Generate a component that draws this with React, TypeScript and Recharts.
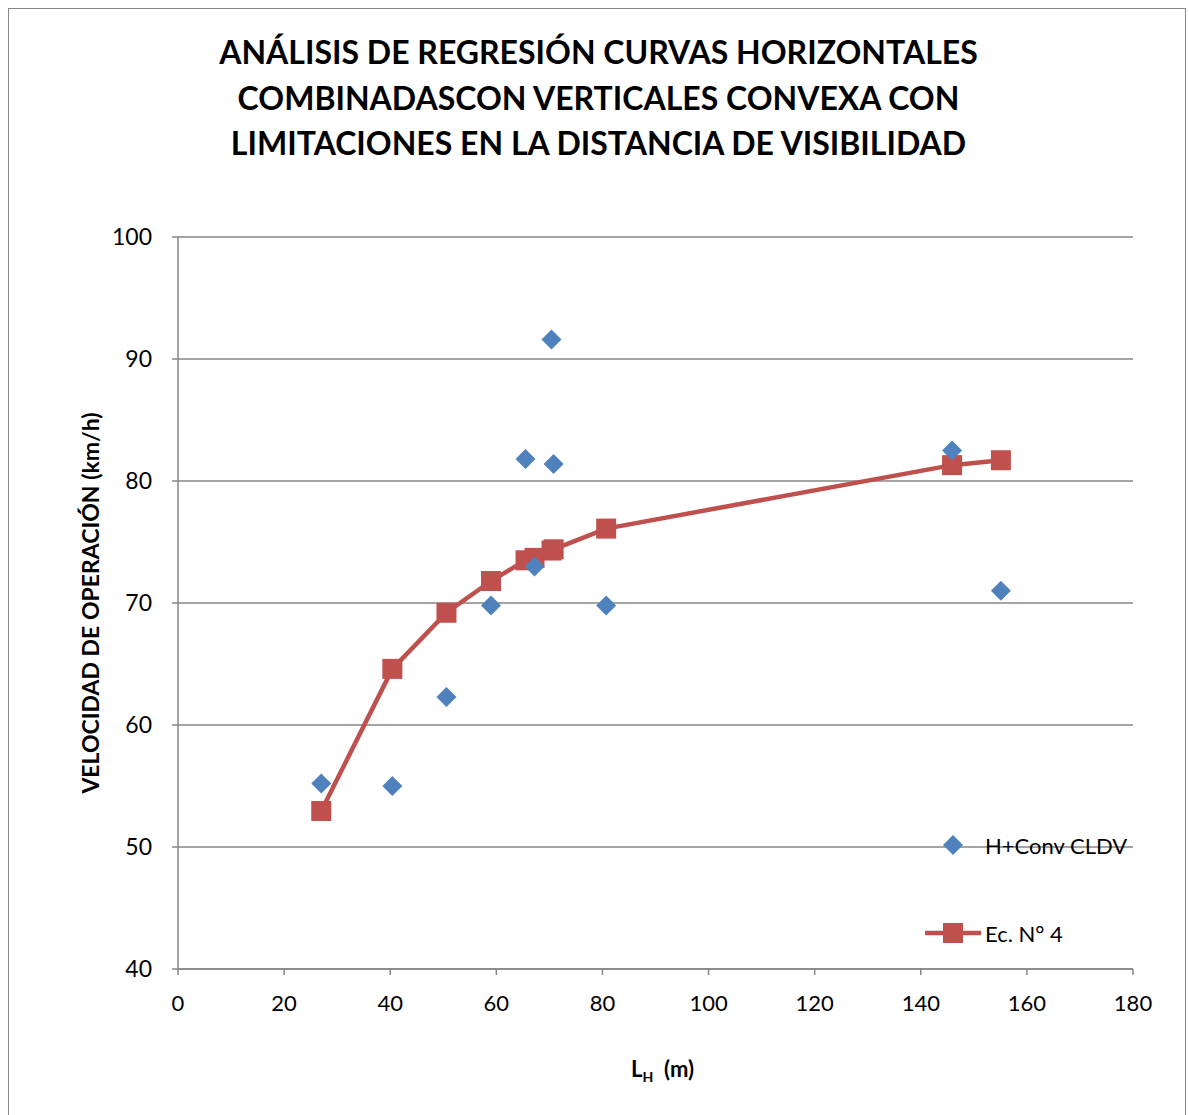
import React from "react";
import { ScatterChart, Scatter, XAxis, YAxis, CartesianGrid } from "recharts";

// L_H (m) for each curve
const lengths = [27, 40.4, 50.6, 59, 65.5, 67.2, 70.4, 70.8, 80.7, 145.9, 155.1];
// observed operating speed (km/h)
const observed = [55.2, 55.0, 62.3, 69.8, 81.8, 73.0, 91.6, 81.4, 69.8, 82.5, 71.0];
// model Ec. N° 4
const model = [52.95, 64.6, 69.2, 71.8, 73.5, 73.7, 74.3, 74.4, 76.1, 81.3, 81.7];

const xTicks = [0, 20, 40, 60, 80, 100, 120, 140, 160, 180];
const yTicks = [40, 50, 60, 70, 80, 90, 100];

const titleLines = [
  "ANÁLISIS DE REGRESIÓN CURVAS HORIZONTALES",
  "COMBINADASCON VERTICALES CONVEXA CON",
  "LIMITACIONES EN LA DISTANCIA DE VISIBILIDAD",
];

const BLUE = "#4F81BD";
const RED = "#C0504D";
const GRID = "#868686";
const FONT = "Lato, 'Open Sans', sans-serif";

const observedData = lengths.map((x, i) => ({ x, y: observed[i] }));
const modelData = lengths.map((x, i) => ({ x, y: model[i] }));

const Diamond = (props: any) => {
  const { cx, cy } = props;
  if (cx == null || cy == null) return null;
  const r = 10;
  return <polygon points={`${cx},${cy - r} ${cx + r},${cy} ${cx},${cy + r} ${cx - r},${cy}`} fill={BLUE} />;
};

const Square = (props: any) => {
  const { cx, cy } = props;
  if (cx == null || cy == null) return null;
  return <rect x={cx - 10} y={cy - 10} width={20} height={20} fill={RED} />;
};

export default function App() {
  return (
    <div style={{ position: "absolute", left: 0, top: 0, width: 1189, height: 1115, background: "#fff", fontFamily: FONT, overflow: "hidden" }}>
      <div style={{ position: "absolute", left: 8, top: 8, width: 1176, height: 1130, border: "1px solid #878787" }} />
      <div style={{ position: "absolute", left: 0, top: 29, width: 1197, textAlign: "center", fontWeight: 700, fontSize: 32, lineHeight: "45.5px", color: "#000" }}>
        {titleLines.map((t) => (
          <div key={t}>{t}</div>
        ))}
      </div>
      <div style={{ position: "absolute", left: 0, top: 0 }}>
        <ScatterChart width={1189} height={1115} margin={{ top: 237, right: 56, left: 0, bottom: 0 }}>
          <CartesianGrid horizontal vertical={false} stroke={GRID} strokeWidth={1.5} />
          <XAxis
            type="number"
            dataKey="x"
            domain={[0, 180]}
            ticks={xTicks}
            interval={0}
            height={146}
            stroke={GRID}
            strokeWidth={1.5}
            tickSize={6}
            tick={{ fontSize: 22, fill: "#000", fontFamily: FONT }}
            tickMargin={20}
          />
          <YAxis
            type="number"
            dataKey="y"
            domain={[40, 100]}
            ticks={yTicks}
            interval={0}
            width={178}
            stroke={GRID}
            strokeWidth={1.5}
            tickSize={6}
            tick={{ fontSize: 23, fill: "#000", fontFamily: FONT }}
            tickMargin={20}
          />
          <Scatter
            data={modelData}
            shape={<Square />}
            line={{ stroke: RED, strokeWidth: 4.5 }}
            lineJointType="linear"
            isAnimationActive={false}
          />
          <Scatter data={observedData} shape={<Diamond />} isAnimationActive={false} />
        </ScatterChart>
      </div>
      <div
        style={{
          position: "absolute",
          left: 90,
          top: 603,
          transform: "translate(-50%, -50%) rotate(-90deg)",
          whiteSpace: "nowrap",
          fontWeight: 700,
          fontSize: 23,
        }}
      >
        VELOCIDAD DE OPERACIÓN (km/h)
      </div>
      <div style={{ position: "absolute", left: 631, top: 1055, fontWeight: 700, fontSize: 22, whiteSpace: "nowrap" }}>
        L<sub style={{ fontSize: 14, verticalAlign: "-5px" }}>H</sub>&nbsp; (m)
      </div>
      {/* legend */}
      <svg style={{ position: "absolute", left: 0, top: 0 }} width={1189} height={1115}>
        <polygon points="953,835 963,845 953,855 943,845" fill={BLUE} />
        <text x={985} y={845} dominantBaseline="central" fontSize={22} fontFamily={FONT} fill="#000">
          H+Conv CLDV
        </text>
        <line x1={925} y1={933} x2={981} y2={933} stroke={RED} strokeWidth={4.5} />
        <rect x={943} y={923} width={20} height={20} fill={RED} />
        <text x={985} y={933} dominantBaseline="central" fontSize={22} fontFamily={FONT} fill="#000">
          Ec. N° 4
        </text>
      </svg>
    </div>
  );
}
